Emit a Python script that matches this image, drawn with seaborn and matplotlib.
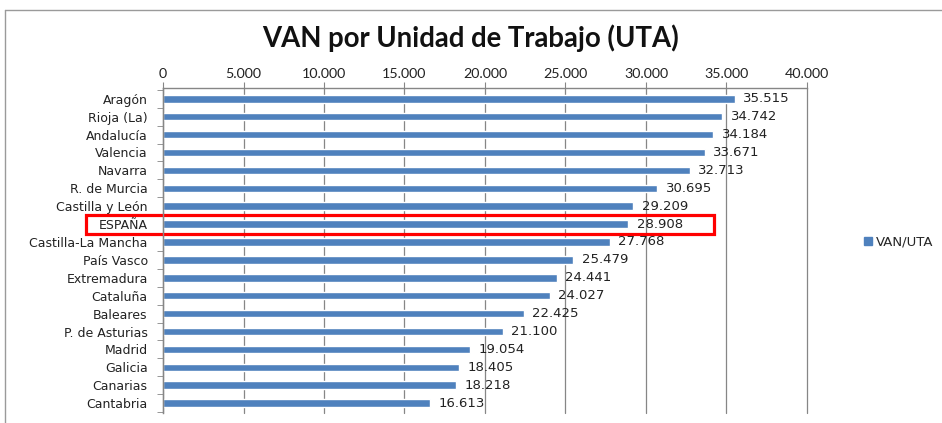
import matplotlib
matplotlib.use("Agg")
import matplotlib.pyplot as plt
import matplotlib.patches as mpatches
import matplotlib.lines as mlines
import seaborn as sns
import pandas as pd

# Datos: VAN por Unidad de Trabajo (UTA)
regiones = ["Aragón", "Rioja (La)", "Andalucía", "Valencia", "Navarra", "R. de Murcia",
            "Castilla y León", "ESPAÑA", "Castilla-La Mancha", "País Vasco", "Extremadura",
            "Cataluña", "Baleares", "P. de Asturias", "Madrid", "Galicia", "Canarias", "Cantabria"]
van_uta = [35515, 34742, 34184, 33671, 32713, 30695, 29209, 28908, 27768, 25479,
           24441, 24027, 22425, 21100, 19054, 18405, 18218, 16613]
ticks_x = [0, 5000, 10000, 15000, 20000, 25000, 30000, 35000, 40000]
destacado = "ESPAÑA"

df = pd.DataFrame({"Region": regiones, "VAN/UTA": van_uta})


def miles(v):
    return f"{v:,.0f}".replace(",", ".")


sns.set_style("white")
plt.rcParams["font.family"] = ["DejaVu Sans"]

azul = "#4F81BD"
gris = "#868686"

fig = plt.figure(figsize=(9.42, 4.23), dpi=100)
ax = fig.add_axes([163 / 942, 1 - 413 / 423, 644 / 942, 325 / 423])

sns.barplot(data=df, x="VAN/UTA", y="Region", color=azul, width=0.42,
            saturation=1, orient="h", ax=ax)

ax.set_xlim(0, 40000)
ax.set_ylim(len(regiones) - 0.45, -0.6)
ax.set_xticks(ticks_x)
ax.set_xticklabels([miles(t) for t in ticks_x], family="Lato", fontsize=10.3)
ax.xaxis.tick_top()
ax.tick_params(axis="x", direction="out", length=4, color=gris, pad=2, top=True, bottom=False)
ax.grid(axis="x", color=gris, linewidth=0.9)
for g in ax.get_xgridlines():
    g.set_clip_on(False)
ax.set_axisbelow(True)

# marcas del eje de categorias entre filas
ax.set_yticks([i for i in range(len(regiones))])
ax.set_yticklabels(regiones, fontsize=9, color="#222222")
ax.set_yticks([i - 0.5 for i in range(len(regiones) + 1)], minor=True)
ax.tick_params(axis="y", which="major", length=0, pad=11)
ax.tick_params(axis="y", which="minor", direction="out", length=4, color=gris, left=True)
ax.tick_params(axis="x", colors="#222222")
ax.tick_params(axis="x", color=gris)

for lado in ["right", "bottom"]:
    ax.spines[lado].set_visible(False)
for lado in ["top", "left"]:
    ax.spines[lado].set_color(gris)
    ax.spines[lado].set_linewidth(1)

ax.set_xlabel("")
ax.set_ylabel("")

# etiquetas de datos
ax.bar_label(ax.containers[0], labels=[miles(v) for v in van_uta], padding=6,
             fontsize=9.5, color="#222222")

# recuadro rojo sobre ESPAÑA
i = regiones.index(destacado)
ax.add_patch(mpatches.Rectangle((-4800, i - 0.53), 39000, 1.06, fill=False,
                                edgecolor="red", linewidth=2.3, clip_on=False))

# titulo
fig.text(471 / 942, 1 - 38 / 423, "VAN por Unidad de Trabajo (UTA)", ha="center", va="center",
         family="Lato", fontweight="bold", fontsize=19.8, color="#111111")

# leyenda
fig.legend(handles=[mpatches.Patch(color=azul, label="VAN/UTA")], loc="center left",
           bbox_to_anchor=(852 / 942, 1 - 242 / 423), frameon=False, fontsize=9.5,
           handlelength=0.6, handleheight=0.6, handletextpad=0.3)

# marco del grafico (solo izquierda y arriba visibles)
fig.add_artist(mlines.Line2D([5 / 942, 5 / 942], [0, 1 - 10 / 423], color="#9a9a9a", linewidth=1))
fig.add_artist(mlines.Line2D([5 / 942, 1], [1 - 10 / 423, 1 - 10 / 423], color="#9a9a9a", linewidth=1))

fig.savefig("out.png", dpi=100)
